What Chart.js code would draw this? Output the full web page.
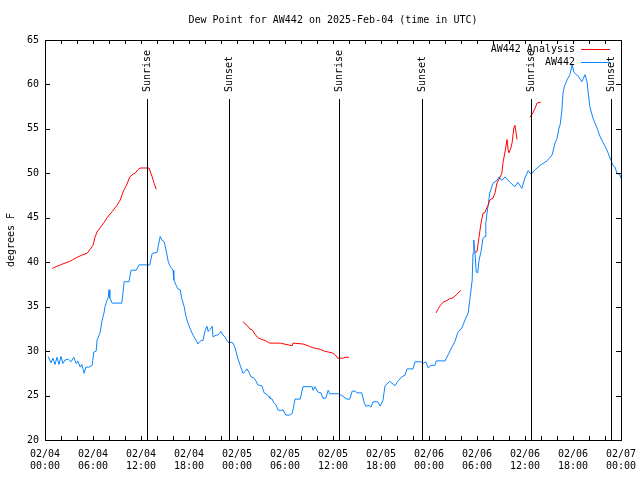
<!DOCTYPE html>
<html>
<head>
<meta charset="utf-8">
<script src="https://cdn.jsdelivr.net/npm/chart.js@4/dist/chart.umd.min.js"></script>
<style>
html,body{margin:0;padding:0;background:#fff;}
#c{display:block;}
</style>
</head>
<body>
<canvas id="c" width="640" height="480"></canvas>
<script>
// ---- Data (hours since 2025-02-04 00:00 UTC) ----
const chartTitle = "Dew Point for AW442 on 2025-Feb-04 (time in UTC)";
const yAxisTitle = "degrees F";
const seriesNames = ["AW442 Analysis", "AW442"];

const xTickLabels = [
  ["02/04","00:00"],["02/04","06:00"],["02/04","12:00"],["02/04","18:00"],
  ["02/05","00:00"],["02/05","06:00"],["02/05","12:00"],["02/05","18:00"],
  ["02/06","00:00"],["02/06","06:00"],["02/06","12:00"],["02/06","18:00"],
  ["02/07","00:00"]
];

const sunriseHours = [12.8, 36.7, 60.7];
const sunsetHours = [23.0, 47.1, 70.8];

const analysisHours = [
  0.9,1.4,1.9,2.5,3.1,3.9,4.6,5.25,5.6,6.0,6.25,6.5,6.9,7.4,7.75,8.4,9.0,9.4,9.75,10.25,10.6,11.0,11.25,11.6,11.9,13.0,13.4,13.6,13.9,
  14.0,
  24.75,25.25,25.6,25.9,26.25,26.6,27.1,27.5,27.9,28.1,29.4,30.4,30.9,31.0,32.25,32.9,33.4,33.9,34.4,34.9,35.4,35.9,36.25,36.6,37.25,37.5,38.0,
  38.1,
  48.9,49.1,49.4,49.75,50.25,50.6,51.0,51.5,51.9,52.0,
  52.1,
  53.75,54.0,54.25,54.5,54.75,55.0,55.25,55.4,55.6,56.0,56.25,56.5,56.9,57.1,57.25,57.5,57.75,57.9,58.0,58.25,58.4,58.6,58.75,58.9,59.0,
  59.1,
  60.6,61.0,61.25,61.5,61.9,62.0
];
const analysisDewpoint = [
  39.3,39.5,39.7,39.9,40.1,40.5,40.8,41.0,41.4,41.9,42.8,43.4,43.9,44.5,45.0,45.7,46.4,47.0,47.9,48.8,49.6,49.9,50.0,50.4,50.6,50.6,49.6,49.0,48.2,
  null,
  33.3,32.9,32.5,32.4,31.9,31.5,31.3,31.2,31.0,30.9,30.9,30.7,30.6,30.9,30.8,30.6,30.4,30.3,30.2,30.0,29.9,29.8,29.6,29.2,29.2,29.3,29.3,
  null,
  34.3,34.7,35.1,35.5,35.7,35.9,36.0,36.4,36.8,36.8,
  null,
  41.1,41.2,42.8,44.4,45.5,45.6,46.2,46.4,47.0,47.2,47.8,48.9,49.6,50.0,51.2,52.4,53.8,52.6,52.3,52.9,53.5,55.1,55.4,54.5,53.8,
  null,
  56.3,56.8,57.3,57.9,58.0,58.0
];

const obsHours = [
  0.375,0.75,1.0,1.25,1.5,1.75,2.0,2.25,2.5,2.9,3.25,3.6,3.9,4.1,4.4,4.6,4.9,5.1,5.5,5.9,
  6.1,6.4,6.5,6.75,6.9,7.1,7.4,7.5,7.75,7.9,8.0,8.1,8.4,9.6,9.9,10.5,10.75,11.4,11.75,13.1,
  13.4,14.0,14.4,14.6,14.9,15.1,15.4,15.6,16.0,16.1,16.4,16.6,16.9,17.1,17.4,17.6,17.75,18.1,18.5,18.9,
  19.1,19.5,19.75,20.0,20.25,20.4,20.6,20.9,21.0,21.4,21.6,22.0,22.25,22.5,22.75,23.0,23.25,23.5,23.75,23.9,
  24.1,24.4,24.75,25.0,25.25,25.5,25.75,26.1,26.4,26.6,27.1,27.4,27.75,28.0,28.1,28.4,28.6,28.9,29.1,29.4,
  29.75,30.1,30.6,30.9,31.0,31.25,31.9,32.25,33.1,33.4,33.5,33.75,34.1,34.5,34.75,35.1,35.4,35.6,36.75,37.25,
  37.75,38.1,38.4,38.75,39.0,39.6,39.9,40.1,40.5,40.75,41.0,41.6,41.9,42.25,42.5,43.1,43.75,44.1,44.6,45.0,
  45.25,46.0,46.25,47.0,47.25,47.6,47.9,48.25,48.75,48.9,50.0,50.4,50.9,51.25,51.6,52.1,52.5,52.9,53.1,53.4,
  53.5,53.6,53.75,53.9,54.1,54.25,54.5,54.75,55.0,55.1,55.25,55.6,56.0,56.5,56.75,57.1,57.5,58.1,58.75,59.1,
  59.4,59.6,60.0,60.4,60.75,61.25,61.9,62.75,63.4,63.75,64.0,64.25,64.4,64.6,64.75,64.9,65.25,65.6,65.9,66.1,
  66.4,66.6,66.9,67.1,67.5,67.75,68.1,68.5,69.0,69.4,69.75,70.25,70.6,71.0,71.25,71.5,71.9,72.0
];
const obsDewpoint = [
  29.4,28.7,29.2,28.5,29.3,28.5,29.4,28.6,29.0,29.1,28.8,29.3,28.6,28.9,28.2,28.5,27.5,28.2,28.2,28.4,
  29.9,30.0,31.2,31.8,32.1,33.3,34.4,35.0,35.7,36.0,36.9,36.0,35.4,35.4,37.8,37.8,39.1,39.1,39.7,39.7,
  41.0,41.1,42.9,42.5,42.3,41.5,40.1,39.6,39.1,38.0,37.4,37.0,36.9,35.9,35.0,34.0,33.5,32.6,31.8,31.2,
  30.8,31.2,31.2,32.3,32.8,32.2,32.4,32.8,31.6,31.8,31.8,32.2,31.8,31.6,31.2,30.9,31.0,30.9,30.4,29.9,
  29.2,28.4,27.5,27.7,28.0,27.6,27.1,27.0,26.6,26.2,26.1,25.3,25.1,24.9,24.7,24.6,24.2,23.9,23.4,23.3,
  23.4,22.8,22.8,23.0,23.4,24.6,24.6,26.0,26.0,26.0,25.6,26.0,25.4,25.3,24.7,24.7,25.6,25.2,25.2,24.9,
  24.6,24.6,25.5,25.5,25.3,25.3,24.2,23.8,23.9,23.7,24.3,24.3,23.8,24.5,26.1,26.6,26.1,26.6,27.1,27.3,
  28.0,28.0,28.8,28.8,28.6,28.8,28.1,28.4,28.4,28.9,28.9,29.6,30.5,31.1,32.1,32.6,33.5,34.3,35.8,38.0,
  41.0,42.5,41.0,38.9,38.8,40.2,41.2,42.7,42.9,44.4,45.5,47.8,48.9,49.2,49.6,49.2,49.6,49.0,48.5,49.0,
  48.6,48.3,49.5,50.3,49.9,50.4,50.9,51.4,52.1,53.4,53.9,55.1,55.5,57.0,59.0,59.7,60.5,61.1,62.2,61.4,
  61.1,61.0,60.6,60.3,61.1,60.3,57.5,56.2,55.1,54.1,53.5,52.6,51.8,50.9,50.7,50.0,49.8,49.4
];

const xMin = 0, xMax = 72, xLabelStep = 6, xMinorStep = 2;
const yMin = 20, yMax = 65, yStep = 5;

const FONT = '"DejaVu Sans Mono", "Liberation Mono", monospace';
const RED = '#ff0000';
const BLUE = '#0a84ff';

function toPoints(xs, ys) {
  return xs.map((x, i) => ({x: x, y: ys[i]}));
}

const decorPlugin = {
  id: 'decor',
  afterDatasetsDraw(chart) {
    const ctx = chart.ctx;
    const xs = chart.scales.x;
    const a = chart.chartArea;
    ctx.save();
    ctx.strokeStyle = '#000';
    ctx.lineWidth = 1;
    ctx.font = '10px ' + FONT;
    ctx.fillStyle = '#000';
    const marks = sunriseHours.map(h => [h, 'Sunrise']).concat(sunsetHours.map(h => [h, 'Sunset']));
    marks.forEach(([h, label]) => {
      const px = Math.round(xs.getPixelForValue(h)) + 0.5;
      ctx.beginPath();
      ctx.moveTo(px, a.top + 59);
      ctx.lineTo(px, a.bottom);
      ctx.stroke();
      ctx.save();
      ctx.translate(px, a.top + 52);
      ctx.rotate(-Math.PI / 2);
      ctx.textAlign = 'left';
      ctx.textBaseline = 'middle';
      ctx.fillText(label, 0, 0);
      ctx.restore();
    });
    ctx.restore();
  },
  afterDraw(chart) {
    const ctx = chart.ctx;
    const xs = chart.scales.x, ys = chart.scales.y;
    const a = chart.chartArea;
    ctx.save();
    ctx.strokeStyle = '#000';
    ctx.lineWidth = 1;
    ctx.strokeRect(Math.round(a.left) + 0.5, Math.round(a.top) + 0.5,
                   Math.round(a.right - a.left), Math.round(a.bottom - a.top));
    ctx.beginPath();
    for (let v = xMin; v <= xMax + 1e-9; v += xMinorStep) {
      const px = Math.round(xs.getPixelForValue(v)) + 0.5;
      const len = 4;
      ctx.moveTo(px, a.bottom); ctx.lineTo(px, a.bottom - len);
      ctx.moveTo(px, a.top); ctx.lineTo(px, a.top + len);
    }
    for (let v = yMin; v <= yMax + 1e-9; v += yStep) {
      const py = Math.round(ys.getPixelForValue(v)) + 0.5;
      ctx.moveTo(a.left, py); ctx.lineTo(a.left + 5, py);
      ctx.moveTo(a.right, py); ctx.lineTo(a.right - 5, py);
    }
    ctx.stroke();

    ctx.fillStyle = '#000';
    ctx.font = '10px ' + FONT;
    ctx.textAlign = 'center';
    ctx.textBaseline = 'middle';
    ctx.fillText(chartTitle, (a.left + a.right) / 2, 20);
    ctx.save();
    ctx.translate(11, (a.top + a.bottom) / 2);
    ctx.rotate(-Math.PI / 2);
    ctx.textAlign = 'center';
    ctx.textBaseline = 'middle';
    ctx.fillText(yAxisTitle, 0, 0);
    ctx.restore();

    const colors = [RED, BLUE];
    const rowsY = [49.5, 62.5];
    seriesNames.forEach((name, i) => {
      ctx.fillStyle = '#000';
      ctx.textAlign = 'right';
      ctx.textBaseline = 'middle';
      ctx.fillText(name, 575, rowsY[i]);
      ctx.strokeStyle = colors[i];
      ctx.beginPath();
      ctx.moveTo(581, rowsY[i]);
      ctx.lineTo(610, rowsY[i]);
      ctx.stroke();
    });
    ctx.restore();
  }
};

new Chart(document.getElementById('c'), {
  type: 'line',
  data: {
    datasets: [
      {
        label: seriesNames[0],
        data: toPoints(analysisHours, analysisDewpoint),
        borderColor: RED,
        backgroundColor: RED,
        borderWidth: 1,
        pointRadius: 0,
        tension: 0,
        spanGaps: false,
        fill: false
      },
      {
        label: seriesNames[1],
        data: toPoints(obsHours, obsDewpoint),
        borderColor: BLUE,
        backgroundColor: BLUE,
        borderWidth: 1,
        pointRadius: 0,
        tension: 0,
        spanGaps: false,
        fill: false
      }
    ]
  },
  options: {
    responsive: false,
    animation: false,
    devicePixelRatio: 1,
    layout: { padding: { top: 40, right: 19, left: 0, bottom: 0 } },
    plugins: {
      legend: { display: false },
      title: { display: false },
      tooltip: { enabled: false }
    },
    scales: {
      x: {
        type: 'linear',
        min: xMin, max: xMax,
        grid: { display: false, drawTicks: false },
        border: { display: false },
        ticks: {
          stepSize: xLabelStep,
          autoSkip: false,
          maxRotation: 0,
          minRotation: 0,
          padding: 8,
          color: '#000',
          font: { family: FONT, size: 10, lineHeight: 1.2 },
          callback: (v) => xTickLabels[Math.round(v / xLabelStep)]
        },
        afterFit: (s) => { s.height = 40; s.paddingLeft = 0; s.paddingRight = 0; }
      },
      y: {
        type: 'linear',
        min: yMin, max: yMax,
        grid: { display: false, drawTicks: false },
        border: { display: false },
        ticks: {
          stepSize: yStep,
          padding: 6,
          color: '#000',
          font: { family: FONT, size: 10 }
        },
        afterFit: (s) => { s.width = 45; s.paddingTop = 0; s.paddingBottom = 0; }
      }
    }
  },
  plugins: [decorPlugin]
});
</script>
</body>
</html>
